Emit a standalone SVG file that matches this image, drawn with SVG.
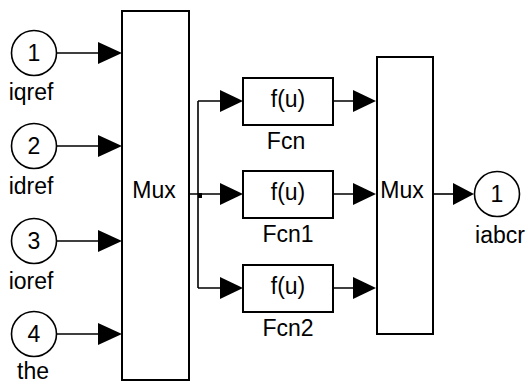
<svg xmlns="http://www.w3.org/2000/svg" width="526" height="385" viewBox="0 0 526 385">
<style>
text{font-family:"Liberation Sans",Arial,sans-serif;font-size:23px;fill:#000;text-anchor:middle}
.blk{fill:#fff;stroke:#000;stroke-width:2}
.port{fill:#fff;stroke:#000;stroke-width:1.6}
.ln{fill:none;stroke:#000;stroke-width:1.6}
.ah{fill:#000;stroke:none}
</style>
<rect width="526" height="385" fill="#fff"/>
<g id="in1"><circle class="port" cx="34" cy="53" r="22.5"/><text x="34" y="61">1</text><text x="31" y="100">iqref</text></g>
<g id="in2"><circle class="port" cx="34" cy="146" r="22.5"/><text x="34" y="154">2</text><text x="31" y="194">idref</text></g>
<g id="in3"><circle class="port" cx="34" cy="241" r="22.5"/><text x="34" y="249">3</text><text x="31" y="289">ioref</text></g>
<g id="in4"><circle class="port" cx="34" cy="334" r="22.5"/><text x="34" y="342">4</text><text x="33" y="379">the</text></g>
<g id="mux1"><rect class="blk" x="122" y="11" width="67" height="369"/><text x="154" y="198">Mux</text></g>
<g id="fcn"><rect class="blk" x="243" y="78" width="90" height="47"/><text x="288" y="107">f(u)</text><text x="286" y="149">Fcn</text></g>
<g id="fcn1"><rect class="blk" x="243" y="171" width="90" height="47"/><text x="288" y="200">f(u)</text><text x="288" y="242">Fcn1</text></g>
<g id="fcn2"><rect class="blk" x="243" y="265" width="90" height="47"/><text x="288" y="294">f(u)</text><text x="288" y="336">Fcn2</text></g>
<g id="mux2"><rect class="blk" x="377" y="57" width="56" height="277"/><text x="402" y="198">Mux</text></g>
<g id="out1"><circle class="port" cx="497" cy="194" r="22.5"/><text x="497" y="202">1</text><text x="500" y="243">iabcr</text></g>
<g id="connectors">
<path class="ln" d="M57 53H99M57 146H99M57 241H99M57 334H99"/>
<polygon class="ah" points="98,42 122,53 98,64"/>
<polygon class="ah" points="98,135 122,146 98,157"/>
<polygon class="ah" points="98,230 122,241 98,252"/>
<polygon class="ah" points="98,323 122,334 98,345"/>
<path class="ln" d="M189 194H221M198 101V288M198 101H221M198 288H221"/>
<rect x="198" y="193" width="4" height="5" fill="#000"/>
<polygon class="ah" points="220,90 243,101 220,112"/>
<polygon class="ah" points="220,183 243,194 220,205"/>
<polygon class="ah" points="220,277 243,288 220,299"/>
<path class="ln" d="M333 101H354M333 194H354M333 288H354"/>
<polygon class="ah" points="353,90 376,101 353,112"/>
<polygon class="ah" points="353,183 376,194 353,205"/>
<polygon class="ah" points="353,277 376,288 353,299"/>
<path class="ln" d="M433 194H454"/>
<polygon class="ah" points="453,183 474,194 453,205"/>
</g>
</svg>
